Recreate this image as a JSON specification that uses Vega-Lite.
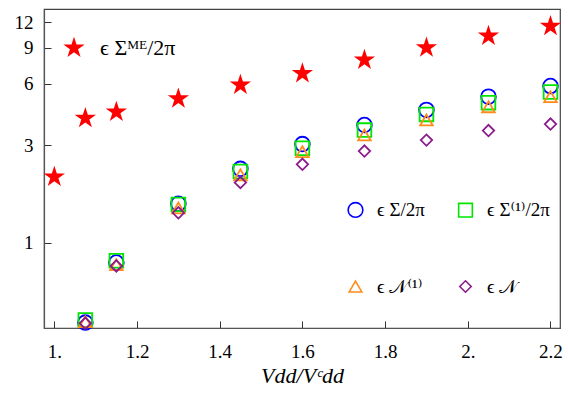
{
  "$schema": "https://vega.github.io/schema/vega-lite/v6.json",
  "width": 516,
  "height": 319,
  "autosize": {"type": "none"},
  "padding": {"left": 44, "top": 9, "right": 8, "bottom": 92},
  "background": "white",
  "config": {
    "view": {"stroke": "#444", "strokeWidth": 1.2},
    "font": "Liberation Serif, DejaVu Serif",
    "axis": {
      "grid": false,
      "domainColor": "#555",
      "domainWidth": 1.2,
      "tickColor": "#333",
      "tickSize": -7,
      "tickWidth": 1,
      "labelFont": "Liberation Serif, DejaVu Serif",
      "labelFontSize": 19,
      "labelColor": "#000",
      "titleFont": "Liberation Serif, DejaVu Serif",
      "titleColor": "#000"
    },
    "legend": {
      "labelFont": "Liberation Serif, DejaVu Serif",
      "labelColor": "#000"
    }
  },
  "datasets": {
    "open": [
      {"x": 1.075, "y": 0.406, "series": "ϵ Σ/2π"},
      {"x": 1.15, "y": 0.80, "series": "ϵ Σ/2π"},
      {"x": 1.3, "y": 1.55, "series": "ϵ Σ/2π"},
      {"x": 1.45, "y": 2.30, "series": "ϵ Σ/2π"},
      {"x": 1.6, "y": 3.04, "series": "ϵ Σ/2π"},
      {"x": 1.75, "y": 3.77, "series": "ϵ Σ/2π"},
      {"x": 1.9, "y": 4.47, "series": "ϵ Σ/2π"},
      {"x": 2.05, "y": 5.19, "series": "ϵ Σ/2π"},
      {"x": 2.2, "y": 5.85, "series": "ϵ Σ/2π"},
      {"x": 1.075, "y": 0.418, "series": "ϵ Σ⁽¹⁾/2π"},
      {"x": 1.15, "y": 0.815, "series": "ϵ Σ⁽¹⁾/2π"},
      {"x": 1.3, "y": 1.54, "series": "ϵ Σ⁽¹⁾/2π"},
      {"x": 1.45, "y": 2.23, "series": "ϵ Σ⁽¹⁾/2π"},
      {"x": 1.6, "y": 2.90, "series": "ϵ Σ⁽¹⁾/2π"},
      {"x": 1.75, "y": 3.56, "series": "ϵ Σ⁽¹⁾/2π"},
      {"x": 1.9, "y": 4.25, "series": "ϵ Σ⁽¹⁾/2π"},
      {"x": 2.05, "y": 4.85, "series": "ϵ Σ⁽¹⁾/2π"},
      {"x": 2.2, "y": 5.47, "series": "ϵ Σ⁽¹⁾/2π"},
      {"x": 1.075, "y": 0.41, "series": "ϵ 𝒩⁽¹⁾"},
      {"x": 1.15, "y": 0.78, "series": "ϵ 𝒩⁽¹⁾"},
      {"x": 1.3, "y": 1.48, "series": "ϵ 𝒩⁽¹⁾"},
      {"x": 1.45, "y": 2.15, "series": "ϵ 𝒩⁽¹⁾"},
      {"x": 1.6, "y": 2.79, "series": "ϵ 𝒩⁽¹⁾"},
      {"x": 1.75, "y": 3.37, "series": "ϵ 𝒩⁽¹⁾"},
      {"x": 1.9, "y": 3.99, "series": "ϵ 𝒩⁽¹⁾"},
      {"x": 2.05, "y": 4.63, "series": "ϵ 𝒩⁽¹⁾"},
      {"x": 2.2, "y": 5.19, "series": "ϵ 𝒩⁽¹⁾"},
      {"x": 1.075, "y": 0.403, "series": "ϵ 𝒩"},
      {"x": 1.15, "y": 0.769, "series": "ϵ 𝒩"},
      {"x": 1.3, "y": 1.40, "series": "ϵ 𝒩"},
      {"x": 1.45, "y": 1.97, "series": "ϵ 𝒩"},
      {"x": 1.6, "y": 2.42, "series": "ϵ 𝒩"},
      {"x": 1.75, "y": 2.81, "series": "ϵ 𝒩"},
      {"x": 1.9, "y": 3.18, "series": "ϵ 𝒩"},
      {"x": 2.05, "y": 3.54, "series": "ϵ 𝒩"},
      {"x": 2.2, "y": 3.81, "series": "ϵ 𝒩"}
    ],
    "stars": [
      {"x": 1.0, "y": 2.10, "series": "ϵ Σᴹᴱ/2π"},
      {"x": 1.075, "y": 4.07, "series": "ϵ Σᴹᴱ/2π"},
      {"x": 1.15, "y": 4.37, "series": "ϵ Σᴹᴱ/2π"},
      {"x": 1.3, "y": 5.07, "series": "ϵ Σᴹᴱ/2π"},
      {"x": 1.45, "y": 5.92, "series": "ϵ Σᴹᴱ/2π"},
      {"x": 1.6, "y": 6.75, "series": "ϵ Σᴹᴱ/2π"},
      {"x": 1.75, "y": 7.85, "series": "ϵ Σᴹᴱ/2π"},
      {"x": 1.9, "y": 9.02, "series": "ϵ Σᴹᴱ/2π"},
      {"x": 2.05, "y": 10.3, "series": "ϵ Σᴹᴱ/2π"},
      {"x": 2.2, "y": 11.5, "series": "ϵ Σᴹᴱ/2π"}
    ]
  },
  "encoding": {
    "x": {
      "field": "x",
      "type": "quantitative",
      "scale": {"domain": [0.975, 2.223], "nice": false, "zero": false},
      "axis": {
        "values": [1.0, 1.2, 1.4, 1.6, 1.8, 2.0, 2.2],
        "labelExpr": "replace(format(datum.value, '.1f'), '.0', '.')",
        "labelPadding": 21,
        "title": "Vdd/Vᶜdd",
        "titleFontSize": 22,
        "titleFontStyle": "italic",
        "titleFontWeight": "normal",
        "titlePadding": 4
      }
    },
    "y": {
      "field": "y",
      "type": "quantitative",
      "scale": {"type": "log", "domain": [0.382, 13.95], "nice": false, "zero": false},
      "axis": {
        "values": [1, 3, 6, 9, 12],
        "format": ".0f",
        "labelPadding": 18,
        "title": null
      }
    }
  },
  "layer": [
    {
      "data": {"name": "open"},
      "mark": {"type": "point", "filled": false, "strokeWidth": 1.8, "opacity": 1},
      "encoding": {
        "color": {
          "field": "series",
          "type": "nominal",
          "scale": {
            "domain": ["ϵ Σ/2π", "ϵ Σ⁽¹⁾/2π", "ϵ 𝒩⁽¹⁾", "ϵ 𝒩"],
            "range": ["#0000ff", "#00e600", "#ff8c1a", "#8b1a8b"]
          },
          "legend": {
            "title": null,
            "orient": "none",
            "legendX": 302,
            "legendY": 191,
            "columns": 2,
            "direction": "horizontal",
            "padding": 0,
            "labelFontSize": 19,
            "symbolSize": 110,
            "symbolStrokeWidth": 1.6,
            "labelOffset": 12,
            "rowPadding": 56,
            "columnPadding": 30
          }
        },
        "shape": {
          "field": "series",
          "type": "nominal",
          "scale": {
            "domain": ["ϵ Σ/2π", "ϵ Σ⁽¹⁾/2π", "ϵ 𝒩⁽¹⁾", "ϵ 𝒩"],
            "range": ["circle", "square", "triangle-up", "diamond"]
          }
        },
        "size": {
          "field": "series",
          "type": "nominal",
          "scale": {
            "domain": ["ϵ Σ/2π", "ϵ Σ⁽¹⁾/2π", "ϵ 𝒩⁽¹⁾", "ϵ 𝒩"],
            "range": [216, 130, 230, 225]
          },
          "legend": null
        }
      }
    },
    {
      "data": {"name": "stars"},
      "mark": {"type": "point", "filled": true, "opacity": 1, "size": 500},
      "encoding": {
        "color": {
          "field": "series",
          "type": "nominal",
          "scale": {"range": ["#ff0000"]},
          "legend": {
            "title": null,
            "orient": "none",
            "legendX": 18,
            "legendY": 27,
            "padding": 0,
            "labelFontSize": 22,
            "symbolSize": 500,
            "labelOffset": 14
          }
        },
        "shape": {
          "field": "series",
          "type": "nominal",
          "scale": {"range": ["M0,-1L0.2245,-0.309L0.951,-0.309L0.363,0.118L0.588,0.809L0,0.382L-0.588,0.809L-0.363,0.118L-0.951,-0.309L-0.2245,-0.309Z"]}
        }
      }
    }
  ],
  "resolve": {"scale": {"color": "independent", "shape": "independent", "size": "independent"}}
}
